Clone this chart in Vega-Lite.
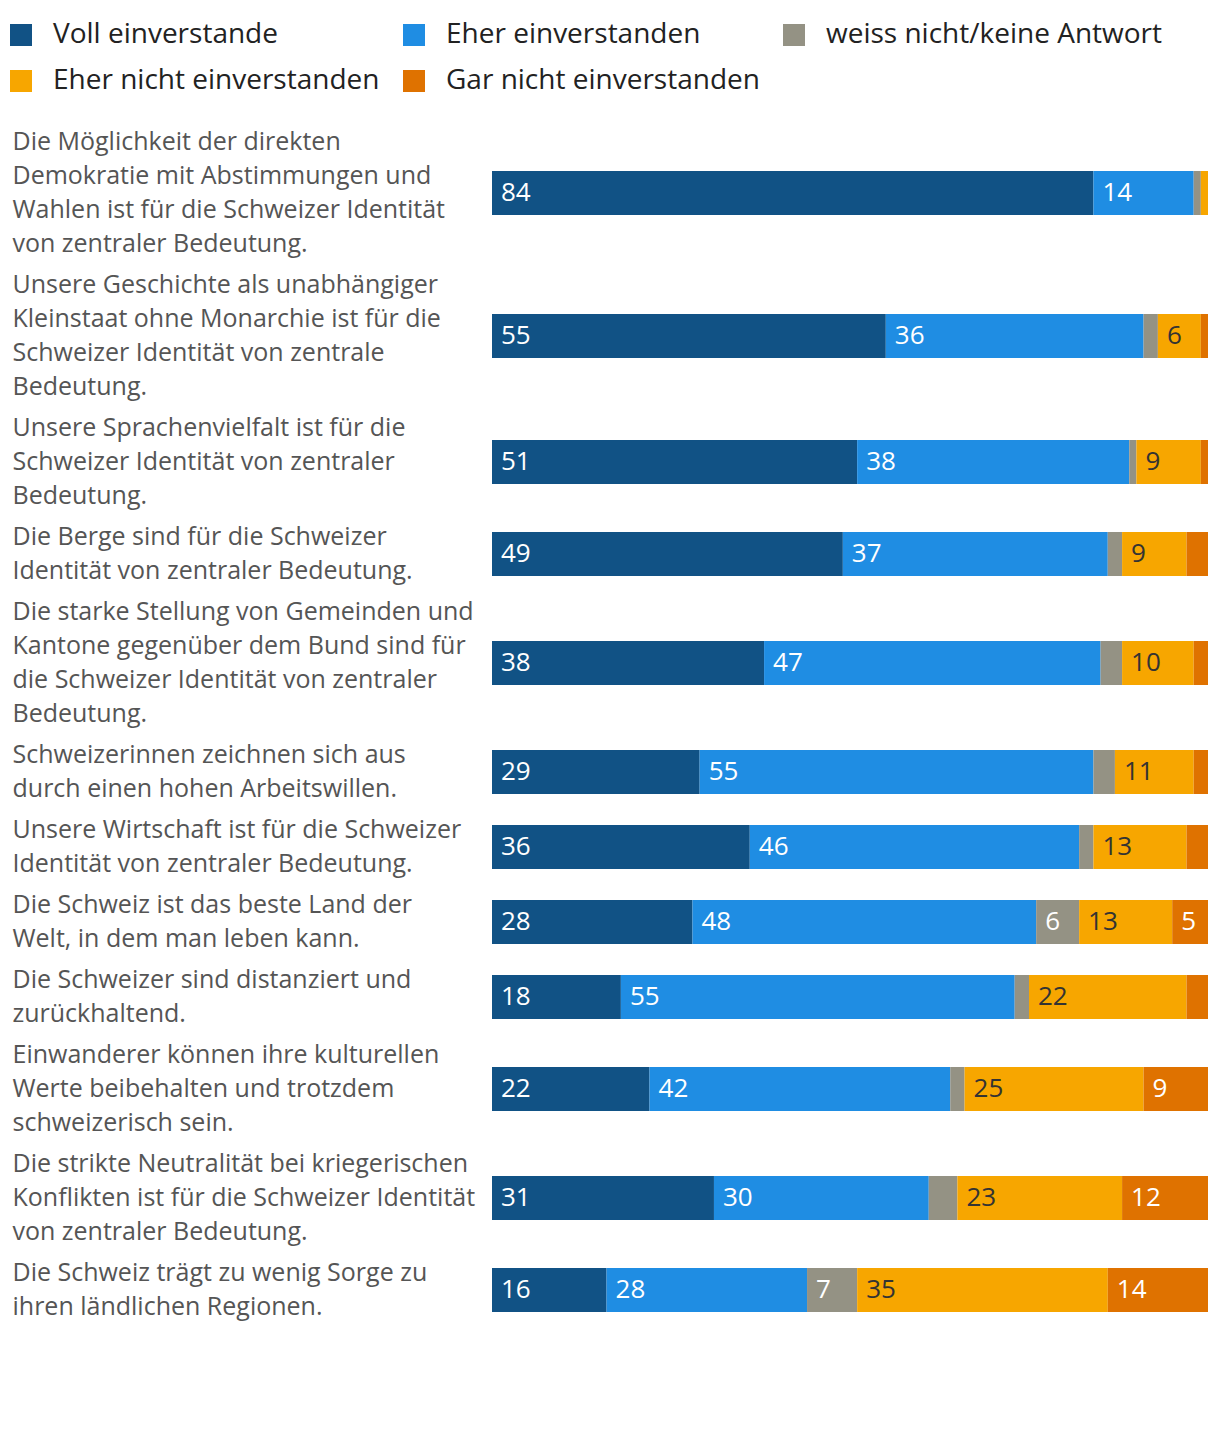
{
  "$schema": "https://vega.github.io/schema/vega-lite/v6.json",
  "padding": {"left": 7, "top": 21, "right": 5, "bottom": 5},
  "background": "white",
  "datasets": {
    "questions": [
      {"i": 1, "q": "Die Möglichkeit der direkten|Demokratie mit Abstimmungen und|Wahlen ist für die Schweizer Identität|von zentraler Bedeutung."},
      {"i": 2, "q": "Unsere Geschichte als unabhängiger|Kleinstaat ohne Monarchie ist für die|Schweizer Identität von zentrale|Bedeutung."},
      {"i": 3, "q": "Unsere Sprachenvielfalt ist für die|Schweizer Identität von zentraler|Bedeutung."},
      {"i": 4, "q": "Die Berge sind für die Schweizer|Identität von zentraler Bedeutung."},
      {"i": 5, "q": "Die starke Stellung von Gemeinden und|Kantone gegenüber dem Bund sind für|die Schweizer Identität von zentraler|Bedeutung."},
      {"i": 6, "q": "Schweizerinnen zeichnen sich aus|durch einen hohen Arbeitswillen."},
      {"i": 7, "q": "Unsere Wirtschaft ist für die Schweizer|Identität von zentraler Bedeutung."},
      {"i": 8, "q": "Die Schweiz ist das beste Land der|Welt, in dem man leben kann."},
      {"i": 9, "q": "Die Schweizer sind distanziert und|zurückhaltend."},
      {"i": 10, "q": "Einwanderer können ihre kulturellen|Werte beibehalten und trotzdem|schweizerisch sein."},
      {"i": 11, "q": "Die strikte Neutralität bei kriegerischen|Konflikten ist für die Schweizer Identität|von zentraler Bedeutung."},
      {"i": 12, "q": "Die Schweiz trägt zu wenig Sorge zu|ihren ländlichen Regionen."}
    ],
    "answers": [
      {"i": 1, "o": 1, "c": "Voll einverstande", "v": 84},
      {"i": 1, "o": 2, "c": "Eher einverstanden", "v": 14},
      {"i": 1, "o": 3, "c": "weiss nicht/keine Antwort", "v": 1},
      {"i": 1, "o": 4, "c": "Eher nicht einverstanden", "v": 1},
      {"i": 1, "o": 5, "c": "Gar nicht einverstanden", "v": 0},
      {"i": 2, "o": 1, "c": "Voll einverstande", "v": 55},
      {"i": 2, "o": 2, "c": "Eher einverstanden", "v": 36},
      {"i": 2, "o": 3, "c": "weiss nicht/keine Antwort", "v": 2},
      {"i": 2, "o": 4, "c": "Eher nicht einverstanden", "v": 6},
      {"i": 2, "o": 5, "c": "Gar nicht einverstanden", "v": 1},
      {"i": 3, "o": 1, "c": "Voll einverstande", "v": 51},
      {"i": 3, "o": 2, "c": "Eher einverstanden", "v": 38},
      {"i": 3, "o": 3, "c": "weiss nicht/keine Antwort", "v": 1},
      {"i": 3, "o": 4, "c": "Eher nicht einverstanden", "v": 9},
      {"i": 3, "o": 5, "c": "Gar nicht einverstanden", "v": 1},
      {"i": 4, "o": 1, "c": "Voll einverstande", "v": 49},
      {"i": 4, "o": 2, "c": "Eher einverstanden", "v": 37},
      {"i": 4, "o": 3, "c": "weiss nicht/keine Antwort", "v": 2},
      {"i": 4, "o": 4, "c": "Eher nicht einverstanden", "v": 9},
      {"i": 4, "o": 5, "c": "Gar nicht einverstanden", "v": 3},
      {"i": 5, "o": 1, "c": "Voll einverstande", "v": 38},
      {"i": 5, "o": 2, "c": "Eher einverstanden", "v": 47},
      {"i": 5, "o": 3, "c": "weiss nicht/keine Antwort", "v": 3},
      {"i": 5, "o": 4, "c": "Eher nicht einverstanden", "v": 10},
      {"i": 5, "o": 5, "c": "Gar nicht einverstanden", "v": 2},
      {"i": 6, "o": 1, "c": "Voll einverstande", "v": 29},
      {"i": 6, "o": 2, "c": "Eher einverstanden", "v": 55},
      {"i": 6, "o": 3, "c": "weiss nicht/keine Antwort", "v": 3},
      {"i": 6, "o": 4, "c": "Eher nicht einverstanden", "v": 11},
      {"i": 6, "o": 5, "c": "Gar nicht einverstanden", "v": 2},
      {"i": 7, "o": 1, "c": "Voll einverstande", "v": 36},
      {"i": 7, "o": 2, "c": "Eher einverstanden", "v": 46},
      {"i": 7, "o": 3, "c": "weiss nicht/keine Antwort", "v": 2},
      {"i": 7, "o": 4, "c": "Eher nicht einverstanden", "v": 13},
      {"i": 7, "o": 5, "c": "Gar nicht einverstanden", "v": 3},
      {"i": 8, "o": 1, "c": "Voll einverstande", "v": 28},
      {"i": 8, "o": 2, "c": "Eher einverstanden", "v": 48},
      {"i": 8, "o": 3, "c": "weiss nicht/keine Antwort", "v": 6},
      {"i": 8, "o": 4, "c": "Eher nicht einverstanden", "v": 13},
      {"i": 8, "o": 5, "c": "Gar nicht einverstanden", "v": 5},
      {"i": 9, "o": 1, "c": "Voll einverstande", "v": 18},
      {"i": 9, "o": 2, "c": "Eher einverstanden", "v": 55},
      {"i": 9, "o": 3, "c": "weiss nicht/keine Antwort", "v": 2},
      {"i": 9, "o": 4, "c": "Eher nicht einverstanden", "v": 22},
      {"i": 9, "o": 5, "c": "Gar nicht einverstanden", "v": 3},
      {"i": 10, "o": 1, "c": "Voll einverstande", "v": 22},
      {"i": 10, "o": 2, "c": "Eher einverstanden", "v": 42},
      {"i": 10, "o": 3, "c": "weiss nicht/keine Antwort", "v": 2},
      {"i": 10, "o": 4, "c": "Eher nicht einverstanden", "v": 25},
      {"i": 10, "o": 5, "c": "Gar nicht einverstanden", "v": 9},
      {"i": 11, "o": 1, "c": "Voll einverstande", "v": 31},
      {"i": 11, "o": 2, "c": "Eher einverstanden", "v": 30},
      {"i": 11, "o": 3, "c": "weiss nicht/keine Antwort", "v": 4},
      {"i": 11, "o": 4, "c": "Eher nicht einverstanden", "v": 23},
      {"i": 11, "o": 5, "c": "Gar nicht einverstanden", "v": 12},
      {"i": 12, "o": 1, "c": "Voll einverstande", "v": 16},
      {"i": 12, "o": 2, "c": "Eher einverstanden", "v": 28},
      {"i": 12, "o": 3, "c": "weiss nicht/keine Antwort", "v": 7},
      {"i": 12, "o": 4, "c": "Eher nicht einverstanden", "v": 35},
      {"i": 12, "o": 5, "c": "Gar nicht einverstanden", "v": 14}
    ]
  },
  "data": {"name": "answers"},
  "transform": [
    {"lookup": "i", "from": {"data": {"name": "questions"}, "key": "i", "fields": ["q"]}},
    {"stack": "v", "groupby": ["i"], "sort": [{"field": "o", "order": "ascending"}], "as": ["v0", "v1"]}
  ],
  "spacing": 7,
  "vconcat": [
    {"height": 136, "width": 716, "transform": [{"filter": "datum.i == 1"}],
     "encoding": {"y": {"field": "q", "type": "nominal", "title": null, "axis": {"labelOffset": -51}}},
     "layer": [
      {"mark": {"type": "bar", "height": 44}, "encoding": {"x": {"field": "v0", "type": "quantitative", "scale": {"domain": [0, 100], "nice": false}, "axis": null}, "x2": {"field": "v1"}, "color": {"field": "c", "type": "nominal", "scale": {"domain": ["Voll einverstande", "Eher einverstanden", "weiss nicht/keine Antwort", "Eher nicht einverstanden", "Gar nicht einverstanden"], "range": ["#115285", "#1f8de3", "#949284", "#f7a600", "#df7200"]}, "title": null}}},
      {"mark": {"type": "text", "align": "left", "baseline": "middle", "dx": 9, "fontSize": 26, "font": "Open Sans"}, "transform": [{"filter": "datum.v >= 5"}], "encoding": {"x": {"field": "v0", "type": "quantitative"}, "text": {"field": "v", "type": "quantitative"}, "color": {"condition": {"test": "datum.o == 4", "value": "#333333"}, "value": "#ffffff"}}}
     ]},
    {"height": 136, "width": 716, "transform": [{"filter": "datum.i == 2"}],
     "encoding": {"y": {"field": "q", "type": "nominal", "title": null, "axis": {"labelOffset": -51}}},
     "layer": [
      {"mark": {"type": "bar", "height": 44}, "encoding": {"x": {"field": "v0", "type": "quantitative", "scale": {"domain": [0, 100], "nice": false}, "axis": null}, "x2": {"field": "v1"}, "color": {"field": "c", "type": "nominal", "scale": {"domain": ["Voll einverstande", "Eher einverstanden", "weiss nicht/keine Antwort", "Eher nicht einverstanden", "Gar nicht einverstanden"], "range": ["#115285", "#1f8de3", "#949284", "#f7a600", "#df7200"]}, "title": null}}},
      {"mark": {"type": "text", "align": "left", "baseline": "middle", "dx": 9, "fontSize": 26, "font": "Open Sans"}, "transform": [{"filter": "datum.v >= 5"}], "encoding": {"x": {"field": "v0", "type": "quantitative"}, "text": {"field": "v", "type": "quantitative"}, "color": {"condition": {"test": "datum.o == 4", "value": "#333333"}, "value": "#ffffff"}}}
     ]},
    {"height": 102, "width": 716, "transform": [{"filter": "datum.i == 3"}],
     "encoding": {"y": {"field": "q", "type": "nominal", "title": null, "axis": {"labelOffset": -34}}},
     "layer": [
      {"mark": {"type": "bar", "height": 44}, "encoding": {"x": {"field": "v0", "type": "quantitative", "scale": {"domain": [0, 100], "nice": false}, "axis": null}, "x2": {"field": "v1"}, "color": {"field": "c", "type": "nominal", "scale": {"domain": ["Voll einverstande", "Eher einverstanden", "weiss nicht/keine Antwort", "Eher nicht einverstanden", "Gar nicht einverstanden"], "range": ["#115285", "#1f8de3", "#949284", "#f7a600", "#df7200"]}, "title": null}}},
      {"mark": {"type": "text", "align": "left", "baseline": "middle", "dx": 9, "fontSize": 26, "font": "Open Sans"}, "transform": [{"filter": "datum.v >= 5"}], "encoding": {"x": {"field": "v0", "type": "quantitative"}, "text": {"field": "v", "type": "quantitative"}, "color": {"condition": {"test": "datum.o == 4", "value": "#333333"}, "value": "#ffffff"}}}
     ]},
    {"height": 68, "width": 716, "transform": [{"filter": "datum.i == 4"}],
     "encoding": {"y": {"field": "q", "type": "nominal", "title": null, "axis": {"labelOffset": -17}}},
     "layer": [
      {"mark": {"type": "bar", "height": 44}, "encoding": {"x": {"field": "v0", "type": "quantitative", "scale": {"domain": [0, 100], "nice": false}, "axis": null}, "x2": {"field": "v1"}, "color": {"field": "c", "type": "nominal", "scale": {"domain": ["Voll einverstande", "Eher einverstanden", "weiss nicht/keine Antwort", "Eher nicht einverstanden", "Gar nicht einverstanden"], "range": ["#115285", "#1f8de3", "#949284", "#f7a600", "#df7200"]}, "title": null}}},
      {"mark": {"type": "text", "align": "left", "baseline": "middle", "dx": 9, "fontSize": 26, "font": "Open Sans"}, "transform": [{"filter": "datum.v >= 5"}], "encoding": {"x": {"field": "v0", "type": "quantitative"}, "text": {"field": "v", "type": "quantitative"}, "color": {"condition": {"test": "datum.o == 4", "value": "#333333"}, "value": "#ffffff"}}}
     ]},
    {"height": 136, "width": 716, "transform": [{"filter": "datum.i == 5"}],
     "encoding": {"y": {"field": "q", "type": "nominal", "title": null, "axis": {"labelOffset": -51}}},
     "layer": [
      {"mark": {"type": "bar", "height": 44}, "encoding": {"x": {"field": "v0", "type": "quantitative", "scale": {"domain": [0, 100], "nice": false}, "axis": null}, "x2": {"field": "v1"}, "color": {"field": "c", "type": "nominal", "scale": {"domain": ["Voll einverstande", "Eher einverstanden", "weiss nicht/keine Antwort", "Eher nicht einverstanden", "Gar nicht einverstanden"], "range": ["#115285", "#1f8de3", "#949284", "#f7a600", "#df7200"]}, "title": null}}},
      {"mark": {"type": "text", "align": "left", "baseline": "middle", "dx": 9, "fontSize": 26, "font": "Open Sans"}, "transform": [{"filter": "datum.v >= 5"}], "encoding": {"x": {"field": "v0", "type": "quantitative"}, "text": {"field": "v", "type": "quantitative"}, "color": {"condition": {"test": "datum.o == 4", "value": "#333333"}, "value": "#ffffff"}}}
     ]},
    {"height": 68, "width": 716, "transform": [{"filter": "datum.i == 6"}],
     "encoding": {"y": {"field": "q", "type": "nominal", "title": null, "axis": {"labelOffset": -17}}},
     "layer": [
      {"mark": {"type": "bar", "height": 44}, "encoding": {"x": {"field": "v0", "type": "quantitative", "scale": {"domain": [0, 100], "nice": false}, "axis": null}, "x2": {"field": "v1"}, "color": {"field": "c", "type": "nominal", "scale": {"domain": ["Voll einverstande", "Eher einverstanden", "weiss nicht/keine Antwort", "Eher nicht einverstanden", "Gar nicht einverstanden"], "range": ["#115285", "#1f8de3", "#949284", "#f7a600", "#df7200"]}, "title": null}}},
      {"mark": {"type": "text", "align": "left", "baseline": "middle", "dx": 9, "fontSize": 26, "font": "Open Sans"}, "transform": [{"filter": "datum.v >= 5"}], "encoding": {"x": {"field": "v0", "type": "quantitative"}, "text": {"field": "v", "type": "quantitative"}, "color": {"condition": {"test": "datum.o == 4", "value": "#333333"}, "value": "#ffffff"}}}
     ]},
    {"height": 68, "width": 716, "transform": [{"filter": "datum.i == 7"}],
     "encoding": {"y": {"field": "q", "type": "nominal", "title": null, "axis": {"labelOffset": -17}}},
     "layer": [
      {"mark": {"type": "bar", "height": 44}, "encoding": {"x": {"field": "v0", "type": "quantitative", "scale": {"domain": [0, 100], "nice": false}, "axis": null}, "x2": {"field": "v1"}, "color": {"field": "c", "type": "nominal", "scale": {"domain": ["Voll einverstande", "Eher einverstanden", "weiss nicht/keine Antwort", "Eher nicht einverstanden", "Gar nicht einverstanden"], "range": ["#115285", "#1f8de3", "#949284", "#f7a600", "#df7200"]}, "title": null}}},
      {"mark": {"type": "text", "align": "left", "baseline": "middle", "dx": 9, "fontSize": 26, "font": "Open Sans"}, "transform": [{"filter": "datum.v >= 5"}], "encoding": {"x": {"field": "v0", "type": "quantitative"}, "text": {"field": "v", "type": "quantitative"}, "color": {"condition": {"test": "datum.o == 4", "value": "#333333"}, "value": "#ffffff"}}}
     ]},
    {"height": 68, "width": 716, "transform": [{"filter": "datum.i == 8"}],
     "encoding": {"y": {"field": "q", "type": "nominal", "title": null, "axis": {"labelOffset": -17}}},
     "layer": [
      {"mark": {"type": "bar", "height": 44}, "encoding": {"x": {"field": "v0", "type": "quantitative", "scale": {"domain": [0, 100], "nice": false}, "axis": null}, "x2": {"field": "v1"}, "color": {"field": "c", "type": "nominal", "scale": {"domain": ["Voll einverstande", "Eher einverstanden", "weiss nicht/keine Antwort", "Eher nicht einverstanden", "Gar nicht einverstanden"], "range": ["#115285", "#1f8de3", "#949284", "#f7a600", "#df7200"]}, "title": null}}},
      {"mark": {"type": "text", "align": "left", "baseline": "middle", "dx": 9, "fontSize": 26, "font": "Open Sans"}, "transform": [{"filter": "datum.v >= 5"}], "encoding": {"x": {"field": "v0", "type": "quantitative"}, "text": {"field": "v", "type": "quantitative"}, "color": {"condition": {"test": "datum.o == 4", "value": "#333333"}, "value": "#ffffff"}}}
     ]},
    {"height": 68, "width": 716, "transform": [{"filter": "datum.i == 9"}],
     "encoding": {"y": {"field": "q", "type": "nominal", "title": null, "axis": {"labelOffset": -17}}},
     "layer": [
      {"mark": {"type": "bar", "height": 44}, "encoding": {"x": {"field": "v0", "type": "quantitative", "scale": {"domain": [0, 100], "nice": false}, "axis": null}, "x2": {"field": "v1"}, "color": {"field": "c", "type": "nominal", "scale": {"domain": ["Voll einverstande", "Eher einverstanden", "weiss nicht/keine Antwort", "Eher nicht einverstanden", "Gar nicht einverstanden"], "range": ["#115285", "#1f8de3", "#949284", "#f7a600", "#df7200"]}, "title": null}}},
      {"mark": {"type": "text", "align": "left", "baseline": "middle", "dx": 9, "fontSize": 26, "font": "Open Sans"}, "transform": [{"filter": "datum.v >= 5"}], "encoding": {"x": {"field": "v0", "type": "quantitative"}, "text": {"field": "v", "type": "quantitative"}, "color": {"condition": {"test": "datum.o == 4", "value": "#333333"}, "value": "#ffffff"}}}
     ]},
    {"height": 102, "width": 716, "transform": [{"filter": "datum.i == 10"}],
     "encoding": {"y": {"field": "q", "type": "nominal", "title": null, "axis": {"labelOffset": -34}}},
     "layer": [
      {"mark": {"type": "bar", "height": 44}, "encoding": {"x": {"field": "v0", "type": "quantitative", "scale": {"domain": [0, 100], "nice": false}, "axis": null}, "x2": {"field": "v1"}, "color": {"field": "c", "type": "nominal", "scale": {"domain": ["Voll einverstande", "Eher einverstanden", "weiss nicht/keine Antwort", "Eher nicht einverstanden", "Gar nicht einverstanden"], "range": ["#115285", "#1f8de3", "#949284", "#f7a600", "#df7200"]}, "title": null}}},
      {"mark": {"type": "text", "align": "left", "baseline": "middle", "dx": 9, "fontSize": 26, "font": "Open Sans"}, "transform": [{"filter": "datum.v >= 5"}], "encoding": {"x": {"field": "v0", "type": "quantitative"}, "text": {"field": "v", "type": "quantitative"}, "color": {"condition": {"test": "datum.o == 4", "value": "#333333"}, "value": "#ffffff"}}}
     ]},
    {"height": 102, "width": 716, "transform": [{"filter": "datum.i == 11"}],
     "encoding": {"y": {"field": "q", "type": "nominal", "title": null, "axis": {"labelOffset": -34}}},
     "layer": [
      {"mark": {"type": "bar", "height": 44}, "encoding": {"x": {"field": "v0", "type": "quantitative", "scale": {"domain": [0, 100], "nice": false}, "axis": null}, "x2": {"field": "v1"}, "color": {"field": "c", "type": "nominal", "scale": {"domain": ["Voll einverstande", "Eher einverstanden", "weiss nicht/keine Antwort", "Eher nicht einverstanden", "Gar nicht einverstanden"], "range": ["#115285", "#1f8de3", "#949284", "#f7a600", "#df7200"]}, "title": null}}},
      {"mark": {"type": "text", "align": "left", "baseline": "middle", "dx": 9, "fontSize": 26, "font": "Open Sans"}, "transform": [{"filter": "datum.v >= 5"}], "encoding": {"x": {"field": "v0", "type": "quantitative"}, "text": {"field": "v", "type": "quantitative"}, "color": {"condition": {"test": "datum.o == 4", "value": "#333333"}, "value": "#ffffff"}}}
     ]},
    {"height": 68, "width": 716, "transform": [{"filter": "datum.i == 12"}],
     "encoding": {"y": {"field": "q", "type": "nominal", "title": null, "axis": {"labelOffset": -17}}},
     "layer": [
      {"mark": {"type": "bar", "height": 44}, "encoding": {"x": {"field": "v0", "type": "quantitative", "scale": {"domain": [0, 100], "nice": false}, "axis": null}, "x2": {"field": "v1"}, "color": {"field": "c", "type": "nominal", "scale": {"domain": ["Voll einverstande", "Eher einverstanden", "weiss nicht/keine Antwort", "Eher nicht einverstanden", "Gar nicht einverstanden"], "range": ["#115285", "#1f8de3", "#949284", "#f7a600", "#df7200"]}, "title": null}}},
      {"mark": {"type": "text", "align": "left", "baseline": "middle", "dx": 9, "fontSize": 26, "font": "Open Sans"}, "transform": [{"filter": "datum.v >= 5"}], "encoding": {"x": {"field": "v0", "type": "quantitative"}, "text": {"field": "v", "type": "quantitative"}, "color": {"condition": {"test": "datum.o == 4", "value": "#333333"}, "value": "#ffffff"}}}
     ]}
  ],
  "config": {
    "view": {"stroke": null},
    "font": "Open Sans",
    "axisY": {
      "domain": false, "ticks": false, "grid": false,
      "labelAlign": "left", "labelBaseline": "middle", "labelPadding": 480, "labelLimit": 478,
      "labelFontSize": 25, "labelFont": "Open Sans", "labelColor": "#555555", "labelLineHeight": 34,
      "labelExpr": "split(datum.label, '|')"
    },
    "legend": {
      "orient": "none", "legendX": -485, "legendY": -104, "columns": 3, "direction": "horizontal",
      "symbolType": "square", "symbolSize": 484, "symbolStrokeWidth": 0, "symbolOpacity": 1,
      "labelFontSize": 28, "labelFont": "Open Sans", "labelColor": "#222222", "labelOffset": 18,
      "labelLimit": 500, "columnPadding": 20, "rowPadding": 18
    }
  }
}
